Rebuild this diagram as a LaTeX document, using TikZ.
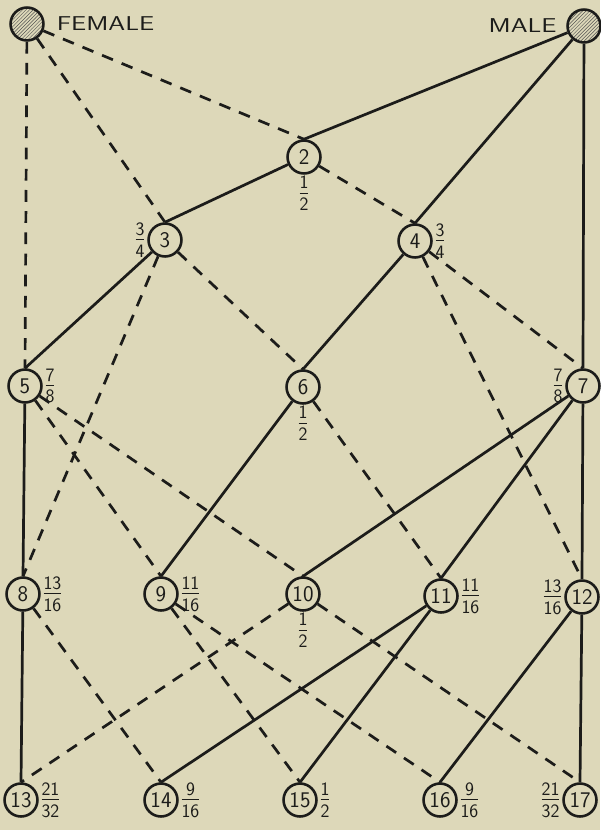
\documentclass[tikz,border=0pt]{standalone}
\usepackage{amsmath}
\definecolor{papel}{HTML}{DDD8B9}
\definecolor{tinta}{HTML}{1C1C1A}
\usetikzlibrary{positioning, patterns}
\tikzset{
  gen/.style={circle, draw=tinta, fill=papel, line width=2.2pt, minimum size=28pt,
    inner sep=0pt, text=tinta, font=\sffamily\fontsize{19}{19}\selectfont},
  padre/.style={circle, draw=tinta, line width=2.2pt, minimum size=28pt,
    pattern=north east lines, pattern color=tinta!75},
  sexo/.style={text=tinta, inner sep=0pt, font=\sffamily\fontsize{17}{17}\selectfont},
  frac/.style={text=tinta, inner sep=1pt, font=\sffamily\fontsize{23}{23}\selectfont},
  pat/.style={line width=2.3pt, draw=tinta},
  mat/.style={line width=2.3pt, draw=tinta, dash pattern=on 10pt off 8pt},
  label distance=0pt
}
\newcommand{\fr}[2]{$\frac{\textsf{#1}}{\textsf{#2}}$}

\begin{document}
\begin{tikzpicture}[x=0.85pt, y=-0.85pt]
\fill[papel] (0,0) rectangle (600,830);
\useasboundingbox (0,0) rectangle (600,830);

% parents
\node[padre] (fem) at (27,24) {};
\node[padre] (mal) at (584,26) {};
\node[sexo, right=10pt of fem] (femtxt) {\scalebox{1.35}[1]{FEMALE}};
\node[sexo, left=8pt of mal] (maltxt) {\scalebox{1.35}[1]{MALE}};

% generations
\node[gen, label={[frac]below:\fr{1}{2}}] (n2) at (304,157) {2};
\node[gen, label={[frac]left:\fr{3}{4}}] (n3) at (165,240) {3};
\node[gen, label={[frac]right:\fr{3}{4}}] (n4) at (415,241) {4};
\node[gen, label={[frac]right:\fr{7}{8}}] (n5) at (25,386) {5};
\node[gen, label={[frac]below:\fr{1}{2}}] (n6) at (303,387) {6};
\node[gen, label={[frac]left:\fr{7}{8}}] (n7) at (583,386) {7};
\node[gen, label={[frac]right:\fr{13}{16}}] (n8) at (23,594) {8};
\node[gen, label={[frac]right:\fr{11}{16}}] (n9) at (161,594) {9};
\node[gen, label={[frac]below:\fr{1}{2}}] (n10) at (303,594) {10};
\node[gen, label={[frac]right:\fr{11}{16}}] (n11) at (441,596) {11};
\node[gen, label={[frac]left:\fr{13}{16}}] (n12) at (582,597) {12};
\node[gen, label={[frac]right:\fr{21}{32}}] (n13) at (21,800) {13};
\node[gen, label={[frac]right:\fr{9}{16}}] (n14) at (161,800) {14};
\node[gen, label={[frac]right:\fr{1}{2}}] (n15) at (300,800) {15};
\node[gen, label={[frac]right:\fr{9}{16}}] (n16) at (440,800) {16};
\node[gen, label={[frac]left:\fr{21}{32}}] (n17) at (580,800) {17};

% solid: male line, dashed: female line
\foreach \a/\b in {mal/n2, mal/n4, mal/n7, n2/n3, n3/n5, n4/n6, n5/n8, n6/n9,
    n7/n10, n7/n11, n7/n12, n8/n13, n11/n14, n11/n15, n12/n16, n12/n17}
  \draw[pat] (\a) -- (\b.north);
\foreach \a/\b in {fem/n2, fem/n3, fem/n5, n2/n4, n3/n6, n3/n8, n4/n7, n4/n12,
    n5/n9, n5/n10, n6/n11, n8/n14, n9/n15, n9/n16, n10/n13, n10/n17}
  \draw[mat] (\a) -- (\b.north);
\end{tikzpicture}
\end{document}
